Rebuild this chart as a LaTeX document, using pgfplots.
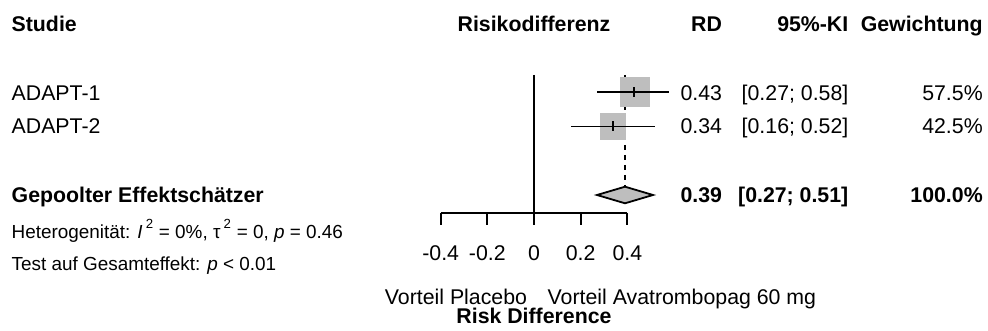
\documentclass[border=0pt]{standalone}
\usepackage{pgfplots}
\pgfplotsset{compat=1.18}
\usepackage{fontspec}
\setmainfont{Liberation Sans}
\definecolor{sqgray}{HTML}{BEBEBE}
\tikzset{lbl/.style={inner sep=0pt,outer sep=0pt},
  bf/.style={lbl,font=\fontsize{21.3}{25}\selectfont\bfseries},
  sm/.style={lbl,font=\fontsize{18.9}{22}\selectfont}}
\begin{document}
\begin{tikzpicture}[font=\fontsize{21.3}{25}\selectfont]
\begin{axis}[width=988pt,height=331pt,scale only axis,
  xmin=-2.28857,xmax=1.94571,ymin=0,ymax=331,y dir=reverse,
  hide axis,clip=false,clip marker paths=true]
% reference line at 0
\addplot[black,line width=1.8pt] coordinates {(0,75) (0,212.7)};
% pooled estimate dashed line
\addplot[black,line width=1.8pt,dash pattern=on 5pt off 5pt] coordinates {(0.39,75) (0.39,186.7)};
% study squares (weights)
\addplot[only marks,mark=square*,mark size=14.5pt,mark options={fill=sqgray,draw=sqgray}] coordinates {(0.43,91.8)};
\addplot[only marks,mark=square*,mark size=12.7pt,mark options={fill=sqgray,draw=sqgray}] coordinates {(0.337,126.2)};
% confidence intervals
\addplot[black,line width=1.8pt] coordinates {(0.27,92.2) (0.58,92.2)};
\addplot[black,line width=1.8pt] coordinates {(0.16,126.5) (0.52,126.5)};
% point estimates
\addplot[black,line width=1.8pt] coordinates {(0.43,87.2) (0.43,97.2)};
\addplot[black,line width=1.8pt] coordinates {(0.34,121.5) (0.34,131.5)};
% pooled diamond
\addplot[fill=sqgray,draw=black,line width=1.8pt,line join=miter] coordinates {(0.27,195) (0.39,186.7) (0.51,195) (0.39,203.3) (0.27,195)} -- cycle;
% x axis
\addplot[black,line width=1.8pt] coordinates {(-0.4,212.7) (0.4,212.7)};
\foreach \t in {-0.4,-0.2,0,0.2,0.4} {
  \edef\temp{\noexpand\draw[black,line width=1.8pt] (axis cs:\t,212.7) -- (axis cs:\t,225);}
  \temp
}
\node[lbl,anchor=base] at (axis cs:-0.4,260) {-0.4};
\node[lbl,anchor=base] at (axis cs:-0.2,260) {-0.2};
\node[lbl,anchor=base] at (axis cs:0,260) {0};
\node[lbl,anchor=base] at (axis cs:0.2,260) {0.2};
\node[lbl,anchor=base] at (axis cs:0.4,260) {0.4};
\node[lbl,anchor=base east] at (axis cs:-0.030,304) {Vorteil Placebo};
\node[lbl,anchor=base west] at (axis cs:0.0587,304) {Vorteil Avatrombopag 60 mg};
\node[bf,anchor=base] at (axis cs:0,323) {Risk Difference};
% header
\node[bf,anchor=base west] at (axis cs:-2.2385,32) {Studie};
\node[bf,anchor=base] at (axis cs:0,32) {Risikodifferenz};
\node[bf,anchor=base east] at (axis cs:0.8057,32) {RD};
\node[bf,anchor=base east] at (axis cs:1.347,32) {95\%-KI};
\node[bf,anchor=base east] at (axis cs:1.923,32) {Gewichtung};
% study rows
\node[lbl,anchor=base west] at (axis cs:-2.2385,100.3) {ADAPT-1};
\node[lbl,anchor=base east] at (axis cs:0.8057,100.3) {0.43};
\node[lbl,anchor=base east] at (axis cs:1.347,100.3) {[0.27; 0.58]};
\node[lbl,anchor=base east] at (axis cs:1.923,100.3) {57.5\%};
\node[lbl,anchor=base west] at (axis cs:-2.2385,134) {ADAPT-2};
\node[lbl,anchor=base east] at (axis cs:0.8057,134) {0.34};
\node[lbl,anchor=base east] at (axis cs:1.347,134) {[0.16; 0.52]};
\node[lbl,anchor=base east] at (axis cs:1.923,134) {42.5\%};
% pooled row
\node[bf,anchor=base west] at (axis cs:-2.2385,203) {Gepoolter Effektschätzer};
\node[bf,anchor=base east] at (axis cs:0.8057,203) {0.39};
\node[bf,anchor=base east] at (axis cs:1.347,203) {[0.27; 0.51]};
\node[bf,anchor=base east] at (axis cs:1.923,203) {100.0\%};
% heterogeneity
\node[sm,anchor=base west] at (axis cs:-2.2385,239) {Heterogenität: \textit{I}\,\raisebox{0.2em}{\textsuperscript{2}} = 0\%, τ\,\raisebox{0.2em}{\textsuperscript{2}} = 0, \textit{p} = 0.46};
\node[sm,anchor=base west] at (axis cs:-2.2385,270) {Test auf Gesamteffekt: \textit{p} < 0.01};
\end{axis}
\pgfresetboundingbox
\useasboundingbox (current axis.south west) rectangle (current axis.north east);
\end{tikzpicture}
\end{document}
